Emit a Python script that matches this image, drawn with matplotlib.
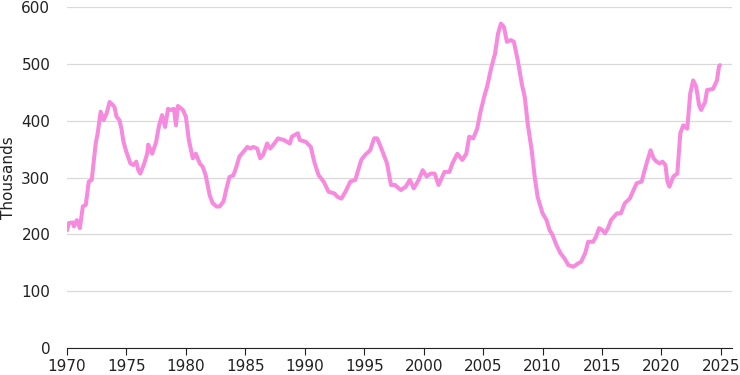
import numpy as np
import matplotlib as mpl
import matplotlib.pyplot as plt

mpl.rc('font', family='DejaVu Sans', size=11)

# New one-family houses for sale, thousands
dates = ['1970-01', '1970-03', '1970-07', '1970-08', '1970-11', '1971-02', '1971-05', '1971-08',
         '1971-11', '1972-02', '1972-06', '1972-08', '1972-11', '1973-02', '1973-05', '1973-08',
         '1973-10', '1974-01', '1974-03', '1974-06', '1974-08', '1974-10', '1975-01', '1975-05',
         '1975-08', '1975-11', '1976-01', '1976-03', '1976-07', '1976-10', '1976-11', '1977-03',
         '1977-07', '1977-10', '1978-01', '1978-04', '1978-07', '1978-10', '1979-01', '1979-03',
         '1979-05', '1979-10', '1980-01', '1980-04', '1980-08', '1980-11', '1981-03', '1981-06',
         '1981-09', '1982-01', '1982-04', '1982-08', '1982-11', '1983-03', '1983-06', '1983-09',
         '1984-01', '1984-04', '1984-07', '1984-11', '1985-03', '1985-06', '1985-09', '1986-01',
         '1986-04', '1986-07', '1986-11', '1987-02', '1987-05', '1987-10', '1988-04', '1988-10',
         '1988-12', '1989-06', '1989-08', '1990-02', '1990-07', '1990-11', '1991-03', '1991-08',
         '1992-01', '1992-07', '1992-10', '1993-02', '1993-06', '1993-11', '1994-04', '1994-10',
         '1995-02', '1995-07', '1995-11', '1996-02', '1996-05', '1996-10', '1996-12', '1997-04',
         '1997-08', '1998-02', '1998-07', '1998-11', '1999-03', '1999-08', '1999-12', '2000-04',
         '2000-08', '2000-12', '2001-04', '2001-10', '2002-03', '2002-06', '2002-11', '2003-04',
         '2003-08', '2003-11', '2004-03', '2004-07', '2004-10', '2005-02', '2005-05', '2005-09',
         '2006-01', '2006-04', '2006-07', '2006-10', '2007-01', '2007-05', '2007-08', '2007-12',
         '2008-04', '2008-07', '2008-10', '2009-02', '2009-05', '2009-08', '2010-01', '2010-05',
         '2010-08', '2010-11', '2011-03', '2011-07', '2011-11', '2012-03', '2012-08', '2013-01',
         '2013-04', '2013-08', '2013-11', '2014-04', '2014-07', '2014-10', '2015-01', '2015-04',
         '2015-07', '2015-10', '2016-04', '2016-08', '2016-12', '2017-05', '2017-08', '2017-12',
         '2018-05', '2018-08', '2018-11', '2019-02', '2019-05', '2019-08', '2019-11', '2020-02',
         '2020-05', '2020-07', '2020-09', '2021-01', '2021-05', '2021-08', '2021-11', '2022-03',
         '2022-06', '2022-09', '2022-12', '2023-03', '2023-05', '2023-09', '2023-11', '2024-05',
         '2024-09', '2024-11', '2024-12']
for_sale = [207, 220, 221, 214, 225, 211, 249, 252,
            293, 296, 360, 378, 416, 401, 413, 433,
            430, 424, 407, 401, 386, 363, 345, 325,
            322, 328, 313, 307, 325, 342, 358, 342,
            363, 392, 410, 389, 421, 419, 421, 392,
            426, 419, 407, 366, 334, 342, 325, 319,
            304, 269, 255, 249, 249, 258, 281, 301,
            304, 319, 337, 345, 354, 351, 354, 351,
            334, 340, 360, 351, 357, 369, 366, 360,
            372, 378, 366, 363, 354, 325, 304, 293,
            275, 272, 266, 263, 275, 293, 296, 331,
            340, 348, 369, 369, 357, 334, 325, 287,
            287, 278, 284, 296, 281, 296, 313, 302,
            307, 307, 287, 310, 310, 325, 342, 331,
            342, 372, 369, 386, 413, 442, 460, 492,
            518, 553, 571, 565, 539, 542, 539, 506,
            465, 442, 395, 348, 302, 266, 237, 225,
            208, 199, 181, 167, 158, 146, 143, 149,
            152, 167, 187, 187, 196, 211, 208, 202,
            211, 225, 237, 237, 255, 263, 275, 290,
            293, 313, 331, 348, 334, 328, 325, 328,
            322, 293, 284, 302, 307, 378, 392, 386,
            448, 471, 460, 427, 419, 433, 454, 456,
            471, 495, 498]

yr = np.array([int(d[:4]) + (int(d[5:]) - 1) / 12 for d in dates])

fig = plt.figure(figsize=(7.4, 3.75), dpi=100)
ax = fig.add_axes([0.0905, 0.072, 0.899, 0.909])

ax.plot(yr, for_sale, color='#F58ADF', linewidth=2.9,
        solid_joinstyle='round', solid_capstyle='round')

ax.set_xlim(1970, 2025.95)
ax.set_ylim(0, 600)
ax.set_xticks(np.arange(1970, 2026, 5))
ax.set_yticks(np.arange(0, 601, 100))
ax.grid(axis='y', color='#d9d9d9', linewidth=0.9)
ax.set_axisbelow(True)
for s in ['left', 'right', 'top']:
    ax.spines[s].set_visible(False)
ax.spines['bottom'].set_color('#222222')
ax.tick_params(axis='y', length=0, pad=12, labelcolor='#222222')
ax.tick_params(axis='x', length=5, color='#222222', labelcolor='#222222', pad=3)
ax.set_ylabel('Thousands', color='#222222', labelpad=4)

fig.savefig('out.png', dpi=100)
